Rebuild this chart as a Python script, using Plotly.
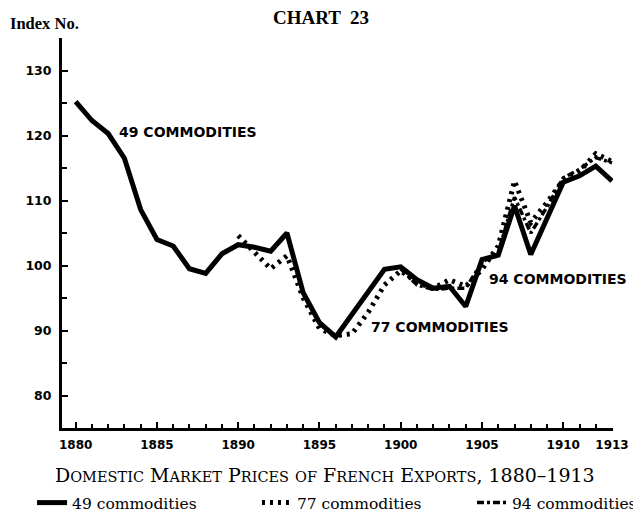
import plotly.graph_objects as go

years = list(range(1880, 1914))
idx_49 = [125.2, 122.3, 120.3, 116.5, 108.6, 104.0, 103.0, 99.5, 98.8, 101.8,
          103.2, 102.8, 102.2, 105.0, 95.8, 91.2, 89.0, 92.4, 95.7, 99.4,
          99.8, 97.8, 96.5, 96.8, 93.7, 100.9, 101.6, 109.2, 101.7, 107.2,
          112.8, 113.8, 115.3, 113.0]

years_77 = list(range(1890, 1914))
idx_77 = [104.6, 102.0, 99.5, 101.5, 95.0, 90.3, 89.2, 89.5, 92.8, 97.0,
          99.2, 97.4, 96.5, 97.8, 96.8, 99.4, 103.0, 113.0, 106.6, 109.7,
          113.2, 114.5, 117.2, 116.0]

years_94 = list(range(1900, 1914))
idx_94 = [99.5, 97.0, 96.3, 96.5, 96.5, 100.5, 102.0, 110.5, 105.0, 109.0,
          113.5, 114.8, 116.6, 115.8]

x_tickvals = [1880, 1885, 1890, 1895, 1900, 1905, 1910, 1913]
y_tickvals = [80, 90, 100, 110, 120, 130]

series_labels = ["49 commodities", "77 commodities", "94 commodities"]
line_labels = ["49 COMMODITIES", "77 COMMODITIES", "94 COMMODITIES"]

fig = go.Figure()
fig.add_trace(go.Scatter(x=years_94, y=idx_94, mode="lines", name=series_labels[2],
                         line=dict(color="black", width=3.5, dash="7px,3px,3px,3px"),
                         legend="legend3"))
fig.add_trace(go.Scatter(x=years_77, y=idx_77, mode="lines", name=series_labels[1],
                         line=dict(color="black", width=5, dash="3px,5px"),
                         legend="legend2"))
fig.add_trace(go.Scatter(x=years, y=idx_49, mode="lines", name=series_labels[0],
                         line=dict(color="black", width=5),
                         legend="legend"))

ann_font = dict(family="DejaVu Sans", size=14, color="black")
fig.add_annotation(x=1886.9, y=120.5, text="<b>" + line_labels[0] + "</b>",
                   showarrow=False, font=ann_font, xanchor="center", yanchor="middle")
fig.add_annotation(x=1902.4, y=90.6, text="<b>" + line_labels[1] + "</b>",
                   showarrow=False, font=ann_font, xanchor="center", yanchor="middle")
fig.add_annotation(x=1909.65, y=97.85, text="<b>" + line_labels[2] + "</b>",
                   showarrow=False, font=ann_font, xanchor="center", yanchor="middle")

serif = "Liberation Serif"
fig.add_annotation(xref="paper", yref="paper", x=0.0, y=1.0, xshift=-54, yshift=15,
                   text="<b>Index No.</b>", showarrow=False,
                   font=dict(family=serif, size=16.5, color="black"),
                   xanchor="left", yanchor="middle")
fig.add_annotation(xref="paper", yref="paper", x=0.4698, y=1.0, yshift=21,
                   xanchor="center", yanchor="middle",
                   text="<b>CHART  23</b>", showarrow=False,
                   font=dict(family=serif, size=19, color="black"))

def sc(word):
    return word[0] + "<span style='font-size:14.5px'>" + word[1:] + "</span>"

caption = " ".join([sc("DOMESTIC"), sc("MARKET"), sc("PRICES"),
                    "<span style='font-size:14.5px'>OF</span>", sc("FRENCH"), sc("EXPORTS") + ","]) \
          + " 1880–1913"
fig.add_annotation(xref="paper", yref="paper", x=0.477, y=0.0, yshift=-47,
                   xanchor="center", yanchor="middle", text=caption, showarrow=False,
                   font=dict(family="DejaVu Serif", size=19, color="black"))

leg_common = dict(orientation="h", xref="container", yref="container",
                  yanchor="middle", bgcolor="rgba(0,0,0,0)", y=0.0217,
                  xanchor="left",
                  font=dict(family="DejaVu Serif", size=15.5, color="black"))
fig.update_layout(
    width=633, height=506,
    margin=dict(l=54, r=17, t=30, b=86),
    paper_bgcolor="white", plot_bgcolor="white",
    showlegend=True,
    legend=dict(x=0.038, **leg_common),
    legend2=dict(x=0.3933, **leg_common),
    legend3=dict(x=0.733, **leg_common),
    xaxis=dict(range=[1879.16, 1913.06], tickmode="array", tickvals=x_tickvals,
               ticktext=[str(v) for v in x_tickvals],
               showgrid=False, zeroline=False, showline=True, linecolor="black",
               linewidth=3, ticks="inside", ticklen=6, tickwidth=2, tickcolor="black",
               minor=dict(tickmode="linear", tick0=1880, dtick=1, ticks="inside",
                          ticklen=4, tickwidth=2, tickcolor="black"),
               tickfont=dict(family="DejaVu Sans", size=12, color="black", weight="bold"),
               ticklabelstandoff=4, fixedrange=True),
    yaxis=dict(range=[75.0, 135.0], tickmode="array", tickvals=y_tickvals,
               showgrid=False, zeroline=False, showline=True, linecolor="black",
               linewidth=3, ticks="inside", ticklen=6, tickwidth=2, tickcolor="black",
               minor=dict(tickmode="linear", tick0=75, dtick=5, ticks="inside",
                          ticklen=5, tickwidth=2, tickcolor="black"),
               tickfont=dict(family="DejaVu Sans", size=12.5, color="black", weight="bold"),
               ticklabelstandoff=5, fixedrange=True),
)

fig.write_html("out.html")
